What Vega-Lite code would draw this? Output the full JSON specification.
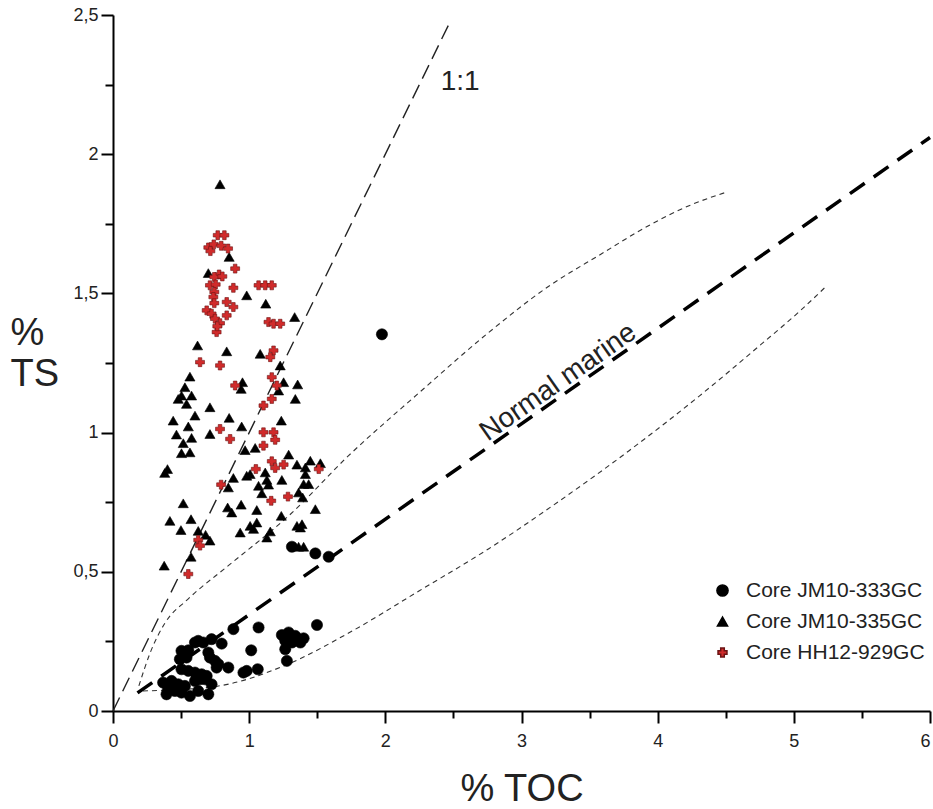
{
  "$schema": "https://vega.github.io/schema/vega-lite/v6.json",
  "width": 817,
  "height": 696,
  "autosize": "none",
  "padding": {"left": 113, "top": 15, "right": 3, "bottom": 98},
  "background": "white",
  "config": {
    "view": {"stroke": null},
    "font": "Liberation Sans",
    "axis": {"grid": false, "domainColor": "black", "domainWidth": 2, "tickColor": "black", "tickWidth": 2, "labelColor": "#222", "labelFont": "Liberation Sans", "labelFontSize": 18, "titleFont": "Liberation Sans", "titleFontWeight": "normal", "titleColor": "#222"}
  },
  "datasets": {
    "pts": [
      {"toc": 0.884, "ts": 0.294, "core": "Core JM10-333GC"},
      {"toc": 1.069, "ts": 0.300, "core": "Core JM10-333GC"},
      {"toc": 1.498, "ts": 0.309, "core": "Core JM10-333GC"},
      {"toc": 1.240, "ts": 0.273, "core": "Core JM10-333GC"},
      {"toc": 1.290, "ts": 0.282, "core": "Core JM10-333GC"},
      {"toc": 1.339, "ts": 0.270, "core": "Core JM10-333GC"},
      {"toc": 1.400, "ts": 0.261, "core": "Core JM10-333GC"},
      {"toc": 1.265, "ts": 0.252, "core": "Core JM10-333GC"},
      {"toc": 1.314, "ts": 0.246, "core": "Core JM10-333GC"},
      {"toc": 1.376, "ts": 0.246, "core": "Core JM10-333GC"},
      {"toc": 1.265, "ts": 0.222, "core": "Core JM10-333GC"},
      {"toc": 1.277, "ts": 0.180, "core": "Core JM10-333GC"},
      {"toc": 1.015, "ts": 0.218, "core": "Core JM10-333GC"},
      {"toc": 0.503, "ts": 0.216, "core": "Core JM10-333GC"},
      {"toc": 0.553, "ts": 0.218, "core": "Core JM10-333GC"},
      {"toc": 0.602, "ts": 0.246, "core": "Core JM10-333GC"},
      {"toc": 0.626, "ts": 0.252, "core": "Core JM10-333GC"},
      {"toc": 0.663, "ts": 0.246, "core": "Core JM10-333GC"},
      {"toc": 0.724, "ts": 0.258, "core": "Core JM10-333GC"},
      {"toc": 0.798, "ts": 0.242, "core": "Core JM10-333GC"},
      {"toc": 0.540, "ts": 0.192, "core": "Core JM10-333GC"},
      {"toc": 0.491, "ts": 0.186, "core": "Core JM10-333GC"},
      {"toc": 0.700, "ts": 0.210, "core": "Core JM10-333GC"},
      {"toc": 0.712, "ts": 0.192, "core": "Core JM10-333GC"},
      {"toc": 0.749, "ts": 0.180, "core": "Core JM10-333GC"},
      {"toc": 0.774, "ts": 0.168, "core": "Core JM10-333GC"},
      {"toc": 0.761, "ts": 0.156, "core": "Core JM10-333GC"},
      {"toc": 0.847, "ts": 0.156, "core": "Core JM10-333GC"},
      {"toc": 0.958, "ts": 0.138, "core": "Core JM10-333GC"},
      {"toc": 0.982, "ts": 0.144, "core": "Core JM10-333GC"},
      {"toc": 1.063, "ts": 0.150, "core": "Core JM10-333GC"},
      {"toc": 0.503, "ts": 0.150, "core": "Core JM10-333GC"},
      {"toc": 0.553, "ts": 0.144, "core": "Core JM10-333GC"},
      {"toc": 0.602, "ts": 0.138, "core": "Core JM10-333GC"},
      {"toc": 0.651, "ts": 0.132, "core": "Core JM10-333GC"},
      {"toc": 0.688, "ts": 0.126, "core": "Core JM10-333GC"},
      {"toc": 0.639, "ts": 0.114, "core": "Core JM10-333GC"},
      {"toc": 0.368, "ts": 0.102, "core": "Core JM10-333GC"},
      {"toc": 0.430, "ts": 0.108, "core": "Core JM10-333GC"},
      {"toc": 0.479, "ts": 0.096, "core": "Core JM10-333GC"},
      {"toc": 0.528, "ts": 0.090, "core": "Core JM10-333GC"},
      {"toc": 0.405, "ts": 0.078, "core": "Core JM10-333GC"},
      {"toc": 0.455, "ts": 0.072, "core": "Core JM10-333GC"},
      {"toc": 0.503, "ts": 0.066, "core": "Core JM10-333GC"},
      {"toc": 0.393, "ts": 0.060, "core": "Core JM10-333GC"},
      {"toc": 0.565, "ts": 0.054, "core": "Core JM10-333GC"},
      {"toc": 0.466, "ts": 0.084, "core": "Core JM10-333GC"},
      {"toc": 0.602, "ts": 0.108, "core": "Core JM10-333GC"},
      {"toc": 0.676, "ts": 0.114, "core": "Core JM10-333GC"},
      {"toc": 0.724, "ts": 0.096, "core": "Core JM10-333GC"},
      {"toc": 0.626, "ts": 0.072, "core": "Core JM10-333GC"},
      {"toc": 0.700, "ts": 0.060, "core": "Core JM10-333GC"},
      {"toc": 1.314, "ts": 0.590, "core": "Core JM10-333GC"},
      {"toc": 1.486, "ts": 0.566, "core": "Core JM10-333GC"},
      {"toc": 1.584, "ts": 0.554, "core": "Core JM10-333GC"},
      {"toc": 1.975, "ts": 1.353, "core": "Core JM10-333GC"},
      {"toc": 0.786, "ts": 1.892, "core": "Core JM10-335GC"},
      {"toc": 0.853, "ts": 1.631, "core": "Core JM10-335GC"},
      {"toc": 0.700, "ts": 1.573, "core": "Core JM10-335GC"},
      {"toc": 0.982, "ts": 1.493, "core": "Core JM10-335GC"},
      {"toc": 1.122, "ts": 1.463, "core": "Core JM10-335GC"},
      {"toc": 1.334, "ts": 1.415, "core": "Core JM10-335GC"},
      {"toc": 0.621, "ts": 1.313, "core": "Core JM10-335GC"},
      {"toc": 0.835, "ts": 1.292, "core": "Core JM10-335GC"},
      {"toc": 1.081, "ts": 1.283, "core": "Core JM10-335GC"},
      {"toc": 1.228, "ts": 1.241, "core": "Core JM10-335GC"},
      {"toc": 0.565, "ts": 1.201, "core": "Core JM10-335GC"},
      {"toc": 0.951, "ts": 1.181, "core": "Core JM10-335GC"},
      {"toc": 0.941, "ts": 1.157, "core": "Core JM10-335GC"},
      {"toc": 1.253, "ts": 1.181, "core": "Core JM10-335GC"},
      {"toc": 1.356, "ts": 1.173, "core": "Core JM10-335GC"},
      {"toc": 1.216, "ts": 1.151, "core": "Core JM10-335GC"},
      {"toc": 0.528, "ts": 1.163, "core": "Core JM10-335GC"},
      {"toc": 0.503, "ts": 1.133, "core": "Core JM10-335GC"},
      {"toc": 0.577, "ts": 1.133, "core": "Core JM10-335GC"},
      {"toc": 0.540, "ts": 1.103, "core": "Core JM10-335GC"},
      {"toc": 0.479, "ts": 1.121, "core": "Core JM10-335GC"},
      {"toc": 1.339, "ts": 1.121, "core": "Core JM10-335GC"},
      {"toc": 0.712, "ts": 1.091, "core": "Core JM10-335GC"},
      {"toc": 0.602, "ts": 1.061, "core": "Core JM10-335GC"},
      {"toc": 0.853, "ts": 1.053, "core": "Core JM10-335GC"},
      {"toc": 0.442, "ts": 1.043, "core": "Core JM10-335GC"},
      {"toc": 0.553, "ts": 1.022, "core": "Core JM10-335GC"},
      {"toc": 1.236, "ts": 1.043, "core": "Core JM10-335GC"},
      {"toc": 0.945, "ts": 1.022, "core": "Core JM10-335GC"},
      {"toc": 0.466, "ts": 0.993, "core": "Core JM10-335GC"},
      {"toc": 0.577, "ts": 0.981, "core": "Core JM10-335GC"},
      {"toc": 0.712, "ts": 0.995, "core": "Core JM10-335GC"},
      {"toc": 0.516, "ts": 0.962, "core": "Core JM10-335GC"},
      {"toc": 0.565, "ts": 0.929, "core": "Core JM10-335GC"},
      {"toc": 0.503, "ts": 0.926, "core": "Core JM10-335GC"},
      {"toc": 0.400, "ts": 0.869, "core": "Core JM10-335GC"},
      {"toc": 0.380, "ts": 0.855, "core": "Core JM10-335GC"},
      {"toc": 0.970, "ts": 0.937, "core": "Core JM10-335GC"},
      {"toc": 1.044, "ts": 0.945, "core": "Core JM10-335GC"},
      {"toc": 1.290, "ts": 0.921, "core": "Core JM10-335GC"},
      {"toc": 1.351, "ts": 0.885, "core": "Core JM10-335GC"},
      {"toc": 1.449, "ts": 0.899, "core": "Core JM10-335GC"},
      {"toc": 1.523, "ts": 0.890, "core": "Core JM10-335GC"},
      {"toc": 1.413, "ts": 0.875, "core": "Core JM10-335GC"},
      {"toc": 1.413, "ts": 0.851, "core": "Core JM10-335GC"},
      {"toc": 1.400, "ts": 0.815, "core": "Core JM10-335GC"},
      {"toc": 1.437, "ts": 0.815, "core": "Core JM10-335GC"},
      {"toc": 0.884, "ts": 0.837, "core": "Core JM10-335GC"},
      {"toc": 0.982, "ts": 0.845, "core": "Core JM10-335GC"},
      {"toc": 1.007, "ts": 0.851, "core": "Core JM10-335GC"},
      {"toc": 1.118, "ts": 0.857, "core": "Core JM10-335GC"},
      {"toc": 1.130, "ts": 0.830, "core": "Core JM10-335GC"},
      {"toc": 1.069, "ts": 0.809, "core": "Core JM10-335GC"},
      {"toc": 1.142, "ts": 0.813, "core": "Core JM10-335GC"},
      {"toc": 1.240, "ts": 0.830, "core": "Core JM10-335GC"},
      {"toc": 0.847, "ts": 0.803, "core": "Core JM10-335GC"},
      {"toc": 1.093, "ts": 0.782, "core": "Core JM10-335GC"},
      {"toc": 1.363, "ts": 0.785, "core": "Core JM10-335GC"},
      {"toc": 1.393, "ts": 0.767, "core": "Core JM10-335GC"},
      {"toc": 0.516, "ts": 0.746, "core": "Core JM10-335GC"},
      {"toc": 0.941, "ts": 0.741, "core": "Core JM10-335GC"},
      {"toc": 0.842, "ts": 0.731, "core": "Core JM10-335GC"},
      {"toc": 0.872, "ts": 0.713, "core": "Core JM10-335GC"},
      {"toc": 1.056, "ts": 0.722, "core": "Core JM10-335GC"},
      {"toc": 1.486, "ts": 0.725, "core": "Core JM10-335GC"},
      {"toc": 1.236, "ts": 0.701, "core": "Core JM10-335GC"},
      {"toc": 0.418, "ts": 0.683, "core": "Core JM10-335GC"},
      {"toc": 0.573, "ts": 0.689, "core": "Core JM10-335GC"},
      {"toc": 0.499, "ts": 0.650, "core": "Core JM10-335GC"},
      {"toc": 0.626, "ts": 0.647, "core": "Core JM10-335GC"},
      {"toc": 0.680, "ts": 0.633, "core": "Core JM10-335GC"},
      {"toc": 0.712, "ts": 0.612, "core": "Core JM10-335GC"},
      {"toc": 1.007, "ts": 0.665, "core": "Core JM10-335GC"},
      {"toc": 1.056, "ts": 0.677, "core": "Core JM10-335GC"},
      {"toc": 1.032, "ts": 0.654, "core": "Core JM10-335GC"},
      {"toc": 0.934, "ts": 0.641, "core": "Core JM10-335GC"},
      {"toc": 1.155, "ts": 0.645, "core": "Core JM10-335GC"},
      {"toc": 1.130, "ts": 0.623, "core": "Core JM10-335GC"},
      {"toc": 1.351, "ts": 0.665, "core": "Core JM10-335GC"},
      {"toc": 1.388, "ts": 0.671, "core": "Core JM10-335GC"},
      {"toc": 1.376, "ts": 0.659, "core": "Core JM10-335GC"},
      {"toc": 0.573, "ts": 0.554, "core": "Core JM10-335GC"},
      {"toc": 0.376, "ts": 0.522, "core": "Core JM10-335GC"},
      {"toc": 1.363, "ts": 0.590, "core": "Core JM10-335GC"},
      {"toc": 1.400, "ts": 0.590, "core": "Core JM10-335GC"},
      {"toc": 0.769, "ts": 1.709, "core": "Core HH12-929GC"},
      {"toc": 0.818, "ts": 1.709, "core": "Core HH12-929GC"},
      {"toc": 0.700, "ts": 1.665, "core": "Core HH12-929GC"},
      {"toc": 0.740, "ts": 1.676, "core": "Core HH12-929GC"},
      {"toc": 0.795, "ts": 1.671, "core": "Core HH12-929GC"},
      {"toc": 0.845, "ts": 1.661, "core": "Core HH12-929GC"},
      {"toc": 0.715, "ts": 1.652, "core": "Core HH12-929GC"},
      {"toc": 0.897, "ts": 1.589, "core": "Core HH12-929GC"},
      {"toc": 0.779, "ts": 1.568, "core": "Core HH12-929GC"},
      {"toc": 0.744, "ts": 1.559, "core": "Core HH12-929GC"},
      {"toc": 0.803, "ts": 1.561, "core": "Core HH12-929GC"},
      {"toc": 0.712, "ts": 1.529, "core": "Core HH12-929GC"},
      {"toc": 0.754, "ts": 1.532, "core": "Core HH12-929GC"},
      {"toc": 0.884, "ts": 1.520, "core": "Core HH12-929GC"},
      {"toc": 0.744, "ts": 1.505, "core": "Core HH12-929GC"},
      {"toc": 0.737, "ts": 1.487, "core": "Core HH12-929GC"},
      {"toc": 0.744, "ts": 1.465, "core": "Core HH12-929GC"},
      {"toc": 0.835, "ts": 1.469, "core": "Core HH12-929GC"},
      {"toc": 0.884, "ts": 1.451, "core": "Core HH12-929GC"},
      {"toc": 0.688, "ts": 1.439, "core": "Core HH12-929GC"},
      {"toc": 0.724, "ts": 1.427, "core": "Core HH12-929GC"},
      {"toc": 0.835, "ts": 1.421, "core": "Core HH12-929GC"},
      {"toc": 0.749, "ts": 1.409, "core": "Core HH12-929GC"},
      {"toc": 0.786, "ts": 1.393, "core": "Core HH12-929GC"},
      {"toc": 0.761, "ts": 1.361, "core": "Core HH12-929GC"},
      {"toc": 0.766, "ts": 1.382, "core": "Core HH12-929GC"},
      {"toc": 1.069, "ts": 1.529, "core": "Core HH12-929GC"},
      {"toc": 1.118, "ts": 1.529, "core": "Core HH12-929GC"},
      {"toc": 1.166, "ts": 1.529, "core": "Core HH12-929GC"},
      {"toc": 1.142, "ts": 1.397, "core": "Core HH12-929GC"},
      {"toc": 1.179, "ts": 1.391, "core": "Core HH12-929GC"},
      {"toc": 1.228, "ts": 1.391, "core": "Core HH12-929GC"},
      {"toc": 1.179, "ts": 1.295, "core": "Core HH12-929GC"},
      {"toc": 1.155, "ts": 1.271, "core": "Core HH12-929GC"},
      {"toc": 0.639, "ts": 1.253, "core": "Core HH12-929GC"},
      {"toc": 0.786, "ts": 1.241, "core": "Core HH12-929GC"},
      {"toc": 0.897, "ts": 1.169, "core": "Core HH12-929GC"},
      {"toc": 1.166, "ts": 1.199, "core": "Core HH12-929GC"},
      {"toc": 1.203, "ts": 1.169, "core": "Core HH12-929GC"},
      {"toc": 1.166, "ts": 1.121, "core": "Core HH12-929GC"},
      {"toc": 1.105, "ts": 1.097, "core": "Core HH12-929GC"},
      {"toc": 0.786, "ts": 1.013, "core": "Core HH12-929GC"},
      {"toc": 0.860, "ts": 0.977, "core": "Core HH12-929GC"},
      {"toc": 1.105, "ts": 1.001, "core": "Core HH12-929GC"},
      {"toc": 1.179, "ts": 1.001, "core": "Core HH12-929GC"},
      {"toc": 1.191, "ts": 0.974, "core": "Core HH12-929GC"},
      {"toc": 1.105, "ts": 0.953, "core": "Core HH12-929GC"},
      {"toc": 1.166, "ts": 0.897, "core": "Core HH12-929GC"},
      {"toc": 1.253, "ts": 0.885, "core": "Core HH12-929GC"},
      {"toc": 1.191, "ts": 0.873, "core": "Core HH12-929GC"},
      {"toc": 1.049, "ts": 0.869, "core": "Core HH12-929GC"},
      {"toc": 1.511, "ts": 0.869, "core": "Core HH12-929GC"},
      {"toc": 0.794, "ts": 0.813, "core": "Core HH12-929GC"},
      {"toc": 1.162, "ts": 0.755, "core": "Core HH12-929GC"},
      {"toc": 1.285, "ts": 0.770, "core": "Core HH12-929GC"},
      {"toc": 0.626, "ts": 0.614, "core": "Core HH12-929GC"},
      {"toc": 0.639, "ts": 0.594, "core": "Core HH12-929GC"},
      {"toc": 0.553, "ts": 0.492, "core": "Core HH12-929GC"}
    ],
    "oneToOne": [{"toc": 0, "ts": 0}, {"toc": 2.48, "ts": 2.48}],
    "normal": [{"toc": 0.18, "ts": 0.065}, {"toc": 6.0, "ts": 2.06}],
    "upper": [
      {"toc": 0.19, "ts": 0.09}, {"toc": 0.273, "ts": 0.209}, {"toc": 0.383, "ts": 0.317},
      {"toc": 0.553, "ts": 0.403}, {"toc": 0.847, "ts": 0.522}, {"toc": 1.29, "ts": 0.701},
      {"toc": 1.73, "ts": 0.917}, {"toc": 2.25, "ts": 1.144}, {"toc": 2.75, "ts": 1.356},
      {"toc": 3.21, "ts": 1.529}, {"toc": 3.57, "ts": 1.637}, {"toc": 3.94, "ts": 1.745},
      {"toc": 4.24, "ts": 1.817}, {"toc": 4.50, "ts": 1.863}
    ],
    "lower": [
      {"toc": 0.22, "ts": 0.072}, {"toc": 0.72, "ts": 0.086}, {"toc": 1.27, "ts": 0.165},
      {"toc": 1.73, "ts": 0.28}, {"toc": 2.25, "ts": 0.432}, {"toc": 2.76, "ts": 0.583},
      {"toc": 3.28, "ts": 0.755}, {"toc": 3.79, "ts": 0.935}, {"toc": 4.31, "ts": 1.133},
      {"toc": 4.75, "ts": 1.313}, {"toc": 5.05, "ts": 1.439}, {"toc": 5.23, "ts": 1.522}
    ],
    "labels": [
      {"toc": 2.55, "ts": 2.26, "text": "1:1", "angle": 0},
      {"toc": 3.27, "ts": 1.18, "text": "Normal marine", "angle": -35}
    ]
  },
  "layer": [
    {
      "data": {"name": "oneToOne"},
      "mark": {"type": "line", "color": "#222", "strokeWidth": 1.4, "strokeDash": [15, 7]},
      "encoding": {
        "x": {"field": "toc", "type": "quantitative", "scale": {"domain": [0, 6], "nice": false}, "axis": {"title": "% TOC", "titleFontSize": 38, "titlePadding": 20, "values": [0, 0.5, 1, 1.5, 2, 2.5, 3, 3.5, 4, 4.5, 5, 5.5, 6], "labelExpr": "datum.value % 1 == 0 ? toString(datum.value) : ''", "labelAlign": {"condition": {"test": "datum.value == 6", "value": "right"}, "value": "center"}, "tickSize": {"condition": {"test": "datum.value % 1 == 0", "value": 12}, "value": 7}, "labelPadding": 9, "labelFlush": false}},
        "y": {"field": "ts", "type": "quantitative", "scale": {"domain": [0, 2.5], "nice": false}, "axis": {"title": ["%", "TS"], "titleFontSize": 38, "titleAngle": 0, "titleAlign": "left", "titleBaseline": "top", "titleX": -103, "titleY": 299, "titleLineHeight": 41, "values": [0, 0.25, 0.5, 0.75, 1, 1.25, 1.5, 1.75, 2, 2.25, 2.5], "labelExpr": "datum.value * 2 % 1 == 0 ? replace(toString(datum.value), '.', ',') : ''", "tickSize": {"condition": {"test": "datum.value * 2 % 1 == 0", "value": 12}, "value": 8}, "labelPadding": 3, "labelFlush": false}}
      }
    },
    {
      "data": {"name": "upper"},
      "mark": {"type": "line", "color": "#333", "strokeWidth": 1.1, "strokeDash": [5, 4], "interpolate": "monotone"},
      "encoding": {"x": {"field": "toc", "type": "quantitative"}, "y": {"field": "ts", "type": "quantitative"}}
    },
    {
      "data": {"name": "lower"},
      "mark": {"type": "line", "color": "#333", "strokeWidth": 1.1, "strokeDash": [5, 4], "interpolate": "monotone"},
      "encoding": {"x": {"field": "toc", "type": "quantitative"}, "y": {"field": "ts", "type": "quantitative"}}
    },
    {
      "data": {"name": "normal"},
      "mark": {"type": "line", "color": "black", "strokeWidth": 3.5, "strokeDash": [18, 11]},
      "encoding": {"x": {"field": "toc", "type": "quantitative"}, "y": {"field": "ts", "type": "quantitative"}}
    },
    {
      "data": {"name": "labels"},
      "mark": {"type": "text", "font": "Liberation Sans", "fontSize": 28, "color": "#222", "align": "center", "baseline": "middle"},
      "encoding": {"x": {"field": "toc", "type": "quantitative"}, "y": {"field": "ts", "type": "quantitative"}, "text": {"field": "text"}, "angle": {"field": "angle", "type": "quantitative", "scale": null}}
    },
    {
      "data": {"name": "pts"},
      "mark": {"type": "point", "filled": true, "opacity": 1, "strokeWidth": 0.6},
      "encoding": {
        "x": {"field": "toc", "type": "quantitative"},
        "y": {"field": "ts", "type": "quantitative"},
        "shape": {"field": "core", "type": "nominal", "scale": {"domain": ["Core JM10-333GC", "Core JM10-335GC", "Core HH12-929GC"], "range": ["circle", "triangle-up", "cross"]}, "legend": {"title": null, "orient": "none", "legendX": 599, "legendY": 565, "labelFontSize": 21, "labelFont": "Liberation Sans", "labelColor": "#222", "labelLimit": 0, "symbolSize": 100, "rowPadding": 9, "labelOffset": 13, "padding": 0}},
        "color": {"field": "core", "type": "nominal", "scale": {"domain": ["Core JM10-333GC", "Core JM10-335GC", "Core HH12-929GC"], "range": ["black", "black", "#d02b2b"]}, "legend": {"title": null, "orient": "none", "legendX": 599, "legendY": 565, "labelFontSize": 21, "labelFont": "Liberation Sans", "labelColor": "#222", "labelLimit": 0, "symbolSize": 100, "rowPadding": 9, "labelOffset": 13, "padding": 0}},
        "stroke": {"field": "core", "type": "nominal", "scale": {"domain": ["Core JM10-333GC", "Core JM10-335GC", "Core HH12-929GC"], "range": ["black", "black", "#6b1414"]}, "legend": null},
        "size": {"field": "core", "type": "nominal", "scale": {"domain": ["Core JM10-333GC", "Core JM10-335GC", "Core HH12-929GC"], "range": [125, 80, 150]}, "legend": null}
      }
    }
  ]
}
